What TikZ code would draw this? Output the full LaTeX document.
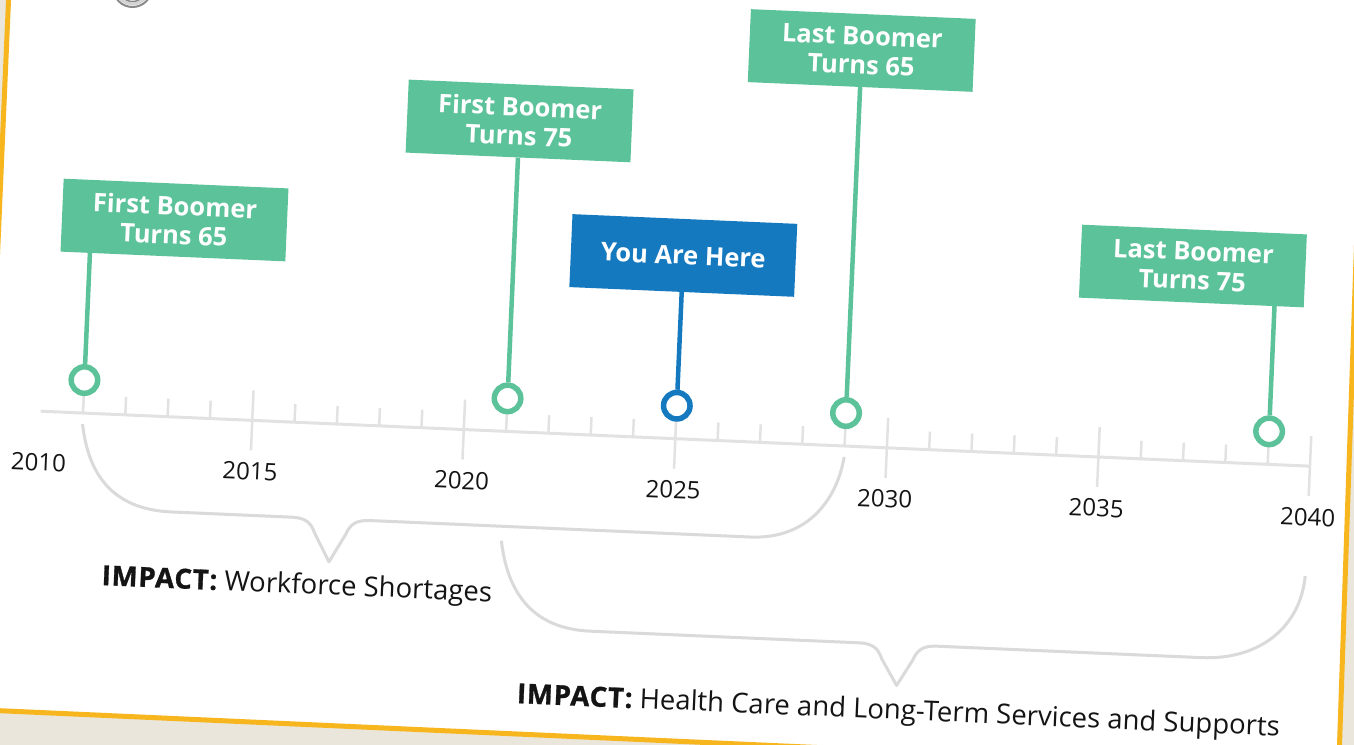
\documentclass[tikz,border=0pt]{standalone}
\usepackage{fontspec}
\setmainfont{Open Sans}
\definecolor{boomgreen}{HTML}{5CC29A}
\definecolor{herblue}{HTML}{1579C0}
\definecolor{axisgray}{HTML}{E2E2E2}
\definecolor{bracegray}{HTML}{DADADA}
\definecolor{cardorange}{HTML}{F7B51E}
\definecolor{paper}{HTML}{EBE6DC}
\definecolor{textblack}{HTML}{141414}
\definecolor{ringdark}{HTML}{8A8A8A}
\definecolor{ringlight}{HTML}{D4D4D4}
\begin{document}
\begin{tikzpicture}[x=1pt,y=-1pt,
  evbox/.style={fill=#1, text=white, minimum width=225pt, minimum height=73pt, inner sep=0pt, align=center, font=\fontsize{25.5}{29}\selectfont\bfseries},
  evdot/.style={circle, draw=#1, line width=5.5pt, fill=white, minimum size=26.5pt, inner sep=0pt},
  stem/.style={draw=#1, line width=4.5pt},
  axisline/.style={draw=axisgray, line width=3pt},
  tickline/.style={draw=axisgray, line width=2.5pt},
  brace/.style={draw=bracegray, line width=3pt, line join=round},
  yearlbl/.style={font=\fontsize{24}{26}\selectfont, text=textblack},
  impactlbl/.style={font=\fontsize{27.5}{30}\selectfont, text=textblack, anchor=base west, inner sep=0pt},
]
\newcommand{\impactword}{{\bfseries\addfontfeatures{LetterSpace=3,FakeBold=1}IMPACT:}}
\useasboundingbox (0,0) rectangle (1354,744);
\clip (0,0) rectangle (1354,744);
\fill[paper] (-10,-10) rectangle (1364,754);

% card
\draw[cardorange, line width=5pt, fill=white, line join=miter]
  (9.4,-20) -- (1365.5,-20) -- (1338.6,771) -- (-22.2,709.7) -- cycle;

\begin{scope}[shift={(40.7,411.2)}, rotate=-2.48, every node/.append style={transform shape}]
  % axis
  \draw[axisline] (0,0) -- (1270.5,0);
  \foreach \k in {1,2,3,4,6,7,8,9,11,12,13,14,16,17,18,19,21,22,23,24,26,27,28,29}
    \draw[tickline] ({42.35*\k},0) -- ({42.35*\k},-18);
  \foreach \k in {5,10,15,20,25,30}
    \draw[tickline] ({42.35*\k},-30) -- ({42.35*\k},30);

  % year labels
  \foreach \k/\yr in {0/2010,5/2015,10/2020,15/2025,20/2030,25/2035,30/2040}
    \node[yearlbl] (y\yr) at ({42.35*\k},51) {\yr};

  % event boxes
  \node[evbox=boomgreen] (b1) at (125.4,-196.8) {First Boomer\\Turns 65};
  \node[evbox=boomgreen] (b2) at (465.9,-310.7) {First Boomer\\Turns 75};
  \node[evbox=herblue]   (b3) at (635.3,-183.4) {You Are Here};
  \node[evbox=boomgreen] (b4) at (804.7,-395.9) {Last Boomer\\Turns 65};
  \node[evbox=boomgreen] (b5) at (1144.9,-194.9) {Last Boomer\\Turns 75};
  \coordinate (s1) at (42.35,-160.3);
  \coordinate (s5) at (1228.2,-158.4);

  % event dots
  \node[evdot=boomgreen] (c1) at (42.35,-33) {};
  \node[evdot=boomgreen] (c2) at (465.9,-33) {};
  \node[evdot=herblue]   (c3) at (635.3,-33) {};
  \node[evdot=boomgreen] (c4) at (804.7,-33) {};
  \node[evdot=boomgreen] (c5) at (1228.2,-33) {};

  % stems
  \draw[stem=boomgreen] (c1.north) -- (s1);
  \draw[stem=boomgreen] (c2.north) -- (b2.south);
  \draw[stem=herblue]   (c3.north) -- (b3.south);
  \draw[stem=boomgreen] (c4.north) -- (b4.south);
  \draw[stem=boomgreen] (c5.north) -- (s5);

  % braces
  \draw[brace] (42.35,11) .. controls (50,60) and (75,95) .. (135,95)
    -- (255,95) .. controls (270,95) and (275,100) .. (279,110)
    -- (294.5,138) -- (310,110) .. controls (314,100) and (319,95) .. (334,95)
    -- (714,95) .. controls (775,95) and (800,50) .. (804.7,11);
  \draw[brace] (465.9,109.5) .. controls (473.6,158.5) and (498.6,196) .. (558.6,196)
    -- (827,196) .. controls (842,196) and (847,201) .. (851,211)
    -- (867,237) -- (882,211) .. controls (886,201) and (891,196) .. (906,196)
    -- (1170,196) .. controls (1230,196) and (1268,160) .. (1270.5,110);

  % impact labels
  \node[impactlbl] (i1) at (68,171) {\impactword{} Workforce Shortages};
  \node[impactlbl] (i2) at (488,271) {\impactword{} Health Care and Long-Term Services and Supports};
\end{scope}

% ring at top
\draw[ringdark, line width=2pt] (132.5,-12.5) circle (19.5);
\draw[ringlight, line width=3pt] (132.5,-12.5) circle (16.5);
\draw[ringdark, line width=1.5pt] (132.5,-12.5) circle (14);
\end{tikzpicture}
\end{document}
